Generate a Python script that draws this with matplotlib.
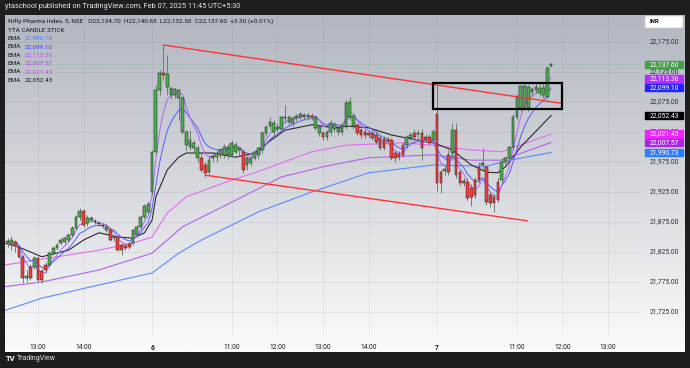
import numpy as np
import pandas as pd
import matplotlib
matplotlib.use("Agg")
import matplotlib.pyplot as plt
from matplotlib.patches import Rectangle, FancyBboxPatch

plt.rcParams['font.family'] = ['Roboto', 'DejaVu Sans']

# --- dane: swiece 5-min, indeks baru liczony od 05 Feb 09:15 (bar 0) ---
first_bar = 37

opens = [
    # 05 Feb
    21842, 21838, 21842, 21833, 21817, 21782, 21800, 21800, 21815, 21793,
    21803, 21803, 21823, 21832, 21840, 21842, 21845, 21853, 21865, 21883,
    21893, 21873, 21878, 21877, 21873, 21870, 21862, 21862, 21848, 21850,
    21837, 21835, 21838, 21840, 21853, 21867, 21883, 21892,
    # 06 Feb
    21925, 21992, 22095, 22123, 22100, 22087, 22087, 22082, 22025, 22003,
    22000, 21998, 21982, 21982, 21970, 21958, 21982, 21983, 21987, 21987,
    21987, 21987, 21992, 21995, 21992, 21970, 21973, 21982, 21987, 21995,
    22023, 22035, 22025, 22030, 22030, 22048, 22042, 22040, 22048, 22050,
    22050, 22050, 22052, 22032, 22023, 22023, 22017, 22025, 22030, 22025,
    22025, 22033, 22050, 22035, 22037, 22028, 22025, 22023, 22023, 22020,
    22015, 22013, 22012, 22012, 21990, 21988, 22003, 22003, 22015, 22023,
    22023, 22023, 22017, 22017, 22012,
    # 07 Feb
    22055, 21958, 21960, 21987, 21990, 22028, 21958, 21943, 21942, 21932,
    21945, 21967, 21970, 21967, 21920, 21917, 21942, 21945, 21975, 21982,
    22000, 22050, 22065, 22067, 22065, 22092, 22095, 22090, 22087, 22083,
    22134.70,
]
highs = [
    21848, 21852, 21845, 21837, 21820, 21795, 21805, 21818, 21818, 21797,
    21808, 21826, 21835, 21840, 21848, 21852, 21857, 21868, 21886, 21898,
    21897, 21886, 21885, 21880, 21877, 21874, 21870, 21866, 21852, 21853,
    21840, 21840, 21842, 21864, 21870, 21886, 21905, 21910,
    21995, 22103, 22128, 22170, 22153, 22100, 22098, 22097, 22085, 22028,
    22028, 22012, 22003, 21990, 21975, 21985, 21988, 21995, 21998, 22005,
    22005, 22010, 22008, 22000, 21997, 21985, 21985, 21995, 22000, 22027,
    22037, 22050, 22045, 22040, 22052, 22070, 22053, 22052, 22055, 22058,
    22057, 22056, 22056, 22053, 22037, 22027, 22028, 22045, 22042, 22035,
    22040, 22078, 22083, 22055, 22040, 22032, 22030, 22028, 22028, 22025,
    22020, 22018, 22017, 22015, 21995, 21993, 22008, 22020, 22025, 22030,
    22028, 22030, 22022, 22022, 22030,
    22103, 21962, 21970, 21995, 22040, 22040, 21962, 21948, 21948, 21938,
    21950, 21975, 21998, 21970, 21925, 21922, 21948, 21982, 21985, 22002,
    22055, 22088, 22103, 22105, 22103, 22100, 22108, 22105, 22107, 22135,
    22140.65,
]
lows = [
    21833, 21828, 21825, 21815, 21773, 21775, 21778, 21797, 21775, 21773,
    21790, 21800, 21820, 21828, 21836, 21838, 21842, 21850, 21862, 21878,
    21866, 21868, 21875, 21872, 21868, 21865, 21858, 21843, 21843, 21826,
    21820, 21828, 21830, 21836, 21850, 21864, 21880, 21888,
    21920, 21987, 22087, 22112, 22087, 22080, 22082, 22045, 22022, 21995,
    21995, 21992, 21975, 21958, 21950, 21955, 21975, 21975, 21982, 21982,
    21980, 21983, 21988, 21985, 21957, 21962, 21968, 21978, 21980, 21990,
    22018, 22030, 22020, 22025, 22027, 22040, 22037, 22035, 22043, 22045,
    22045, 22045, 22045, 22028, 22018, 22012, 22012, 22020, 22025, 22020,
    22020, 22030, 22045, 22030, 22020, 22015, 22015, 22015, 22012, 22005,
    21995, 21995, 22005, 21978, 21975, 21978, 21983, 21998, 22010, 22012,
    22015, 21978, 22008, 22003, 22008,
    21927, 21923, 21953, 21953, 21978, 21948, 21935, 21935, 21912, 21902,
    21915, 21940, 21962, 21903, 21900, 21892, 21908, 21940, 21970, 21978,
    21995, 22045, 22060, 22062, 22060, 22085, 22090, 22085, 22082, 22080,
    22132.50,
]
closes = [
    21841, 21845, 21837, 21817, 21782, 21785, 21782, 21815, 21778, 21778,
    21795, 21823, 21832, 21837, 21845, 21848, 21853, 21865, 21883, 21893,
    21870, 21882, 21881, 21875, 21871, 21868, 21867, 21845, 21850, 21828,
    21828, 21832, 21833, 21862, 21867, 21883, 21902, 21905,
    21992, 22095, 22123, 22120, 22122, 22098, 22097, 22095, 22082, 22025,
    22012, 22007, 21998, 21962, 21957, 21978, 21985, 21990, 21995, 22000,
    22000, 22007, 22003, 21998, 21962, 21982, 21982, 21992, 21998, 22023,
    22033, 22042, 22040, 22033, 22050, 22050, 22050, 22048, 22052, 22055,
    22053, 22053, 22050, 22050, 22033, 22017, 22025, 22040, 22038, 22032,
    22037, 22073, 22075, 22052, 22023, 22020, 22020, 22020, 22015, 22008,
    21998, 21998, 22010, 21982, 21982, 21983, 21987, 22017, 22020, 22017,
    22022, 21998, 22012, 22007, 22025,
    21940, 21940, 21963, 21958, 22028, 21953, 21940, 21940, 21915, 21917,
    21920, 21945, 21973, 21908, 21907, 21907, 21912, 21975, 21982, 22000,
    22050, 22083, 22102, 22102, 22100, 22097, 22100, 22098, 22098, 22131,
    22137.60,
]

# wolniejsze EMA (bar, wartosc)
ema20_bar = [36, 40, 46, 53, 57, 61, 66, 70, 73, 75, 76, 79, 82, 84, 91, 97, 102,
             106, 110, 117, 124, 126, 132, 138, 142, 149, 154, 159, 163, 166, 168, 172, 180]
ema20_val = [21840, 21833, 21817, 21828, 21845, 21857, 21850, 21848, 21857, 21878, 21917,
             21962, 21983, 21990, 21990, 21983, 21990, 22010, 22028, 22037, 22032, 22035,
             22032, 22020, 22015, 22007, 21995, 21970, 21958, 21957, 21967, 22000, 22052.43]
ema50_bar = [36, 48, 61, 70, 75, 79, 84, 96, 102, 117, 126, 141, 149, 159, 167, 180]
ema50_val = [21803, 21815, 21828, 21840, 21850, 21890, 21917, 21945, 21957, 21992, 22003,
             22007, 22003, 21995, 21992, 22021.45]
ema100_bar = [36, 46, 61, 75, 83, 96, 109, 120, 132, 149, 159, 167, 180]
ema100_val = [21767, 21775, 21795, 21823, 21867, 21908, 21950, 21967, 21982, 21987, 21978,
              21978, 22007.57]
ema200_bar = [36, 46, 61, 75, 82, 88, 96, 103, 117, 132, 149, 163, 169, 180]
ema200_val = [21727, 21748, 21770, 21790, 21823, 21845, 21870, 21892, 21925, 21957, 21970,
              21968, 21978, 21990.73]

# linie trendu i prostokat (bar, cena)
upper_line = ([78, 182.6], [22170, 22073])
lower_line = ([89, 173.7], [21953, 21877])
box_bars = (148.8, 182.9)
box_prices = (22063, 22106)

price_ticks = [21725, 21775, 21825, 21875, 21925, 21975, 22025, 22075, 22125, 22175]
tick_bars = [45, 57, 75, 96, 108, 120, 132, 150, 171, 183, 195]
tick_labels = ['13:00', '14:00', '6', '11:00', '12:00', '13:00', '14:00', '7',
               '11:00', '12:00', '13:00']

ema_labels = ['21,990.73', '22,099.10', '22,113.36', '22,007.57', '22,021.45', '22,052.43']
ema_label_colors = ['#3d7bff', '#3f3fff', '#b44cff', '#b040e8', '#e040fb', '#131722']

axis_tags = [(22137.60, '#43a047'), (22113.36, '#b030ff'), (22099.10, '#2424ff'),
             (22052.43, '#000000'), (22021.45, '#ee22ff'), (22007.57, '#a828e0'),
             (21990.73, '#2c7bff')]

# ---------------------------------------------------------------------------
W, H = 690, 368


def fx(px):
    return px / W


def fy(py):
    return 1 - py / H


fig = plt.figure(figsize=(6.9, 3.68), dpi=100)
fig.patch.set_facecolor('#1e1e1e')

# tlo panelu z gradientem
bg = fig.add_axes([fx(5), fy(352), (685 - 5) / W, (352 - 15) / H])
grad = np.linspace(0, 1, 256)[:, None, None]
top_c = np.array([178, 182, 191]) / 255
bot_c = np.array([251, 251, 252]) / 255
bg.imshow(top_c + (bot_c - top_c) * grad, aspect='auto', extent=[0, 1, 0, 1])
bg.axis('off')

ylim = (21683.3, 22220)
ax = fig.add_axes([fx(5), fy(337), (640 - 5) / W, (337 - 15) / H])
ax.set_facecolor('none')
ax.set_xlim(36.3, 203.4)
ax.set_ylim(*ylim)
for s in ax.spines.values():
    s.set_visible(False)
ax.set_yticks(price_ticks)
ax.tick_params(axis='y', left=False, labelleft=False)
ax.set_xticks(tick_bars, tick_labels)
ax.tick_params(axis='x', length=0, pad=5, labelsize=4.8, colors='#131722')
for lab in ax.get_xticklabels():
    if lab.get_text() in ('6', '7'):
        lab.set_fontweight('bold')
ax.grid(True, color='k', alpha=0.06, lw=0.6)

t = np.arange(first_bar, first_bar + len(closes))
o, h, l, c = (np.array(v, dtype=float) for v in (opens, highs, lows, closes))
up = c >= o

# szybkie EMA z zamkniec
ema5 = pd.Series(c).ewm(span=5, adjust=False).mean()
ema9 = pd.Series(c).ewm(span=9, adjust=False).mean()

ax.plot(ema200_bar, ema200_val, color='#5b8cff', lw=0.8, zorder=2)
ax.plot(ema100_bar, ema100_val, color='#b462ea', lw=0.8, zorder=2)
ax.plot(ema50_bar, ema50_val, color='#e46cf2', lw=0.8, zorder=2)
ax.plot(ema20_bar, ema20_val, color='#2a2a2a', lw=0.8, zorder=2)
ax.plot(t, ema9, color='#5a5aff', lw=0.7, zorder=2)
ax.plot(t, ema5, color='#b266ff', lw=0.7, zorder=2)

ax.vlines(t, l, h, color='#6f7c6f', lw=0.7, zorder=3)
ax.bar(t, np.maximum(np.abs(c - o), 1.5), bottom=np.minimum(o, c), width=0.72,
       color=np.where(up, '#4caf50', '#ff3b3b'), edgecolor='#1c1c1c', linewidth=0.35, zorder=4)

ax.axhline(c[-1], color='#4caf50', lw=0.6, ls=(0, (1, 2)), alpha=0.6, zorder=1)

ax.plot(*upper_line, color='#ff3333', lw=1.0, zorder=6)
ax.plot(*lower_line, color='#ff3333', lw=1.0, zorder=6)
ax.add_patch(Rectangle((box_bars[0], box_prices[0]), box_bars[1] - box_bars[0],
                       box_prices[1] - box_prices[0], fill=False, ec='#000000', lw=1.6, zorder=7))

# skala cen
ax2 = fig.add_axes([fx(640), fy(337), 45 / W, (337 - 15) / H])
ax2.set_xlim(0, 1)
ax2.set_ylim(*ylim)
ax2.axis('off')
for p in price_ticks:
    ax2.text(0.867, p, f'{p:,.2f}', ha='right', va='center', fontsize=4.9, color='#2a2e39')
for val, col in axis_tags:
    ax2.add_patch(Rectangle((0.111, val - 6.2), 0.845, 12.4, color=col, zorder=5))
    ax2.text(0.867, val, f'{val:,.2f}', ha='right', va='center', fontsize=4.9,
             color='white', zorder=6)

fig.patches.append(FancyBboxPatch((6.45, (368 - 28) / 100), 0.38, 0.12,
                                  boxstyle='round,pad=0,rounding_size=0.02',
                                  transform=fig.dpi_scale_trans, fc='white', ec='#d0d3da', lw=0.5))
fig.text(fx(650), fy(21.5), 'INR', fontsize=4.3, fontweight='bold', color='#131722', va='center')

# legenda
fig.text(fx(5), fy(7), 'ytaschool published on TradingView.com, Feb 07, 2025 11:45 UTC+5:30',
         fontsize=5.3, color='#e0e3eb', va='center')
fig.text(fx(8), fy(21.7), 'Nifty Pharma Index, 5, NSE   O22,134.70  H22,140.65  L22,132.50  '
         'C22,137.60  +3.30 (+0.01%)', fontsize=4.6, color='#131722', va='center')
fig.text(fx(8), fy(30), 'YTA CANDLE STICK', fontsize=4.6, color='#131722', va='center')
for i, (txt, col) in enumerate(zip(ema_labels, ema_label_colors)):
    yy = 38.3 + i * 8.4
    fig.text(fx(8), fy(yy), 'EMA', fontsize=4.6, color='#131722', va='center')
    fig.text(fx(25), fy(yy), txt, fontsize=4.6, color=col, va='center')

fig.text(fx(6), fy(358.5), 'TV', fontsize=5.5, fontweight='bold', color='white', va='center')
fig.text(fx(17), fy(358.5), 'TradingView', fontsize=5, color='#e0e3eb', va='center')

fig.savefig('out.png', dpi=100, facecolor=fig.get_facecolor())
